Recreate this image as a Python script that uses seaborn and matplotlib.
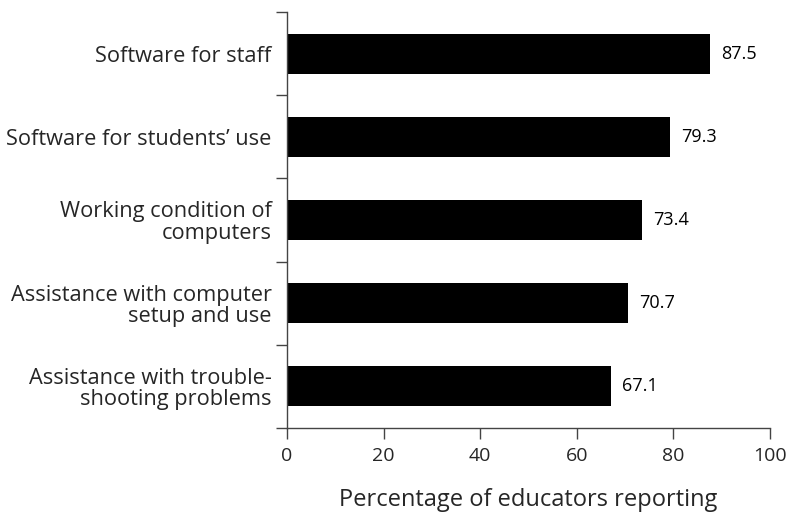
import matplotlib
matplotlib.use("Agg")
import matplotlib.pyplot as plt
from matplotlib.ticker import FixedLocator
import seaborn as sns
import pandas as pd

categories = ["Software for staff", "Software for students\u2019 use",
              "Working condition of\ncomputers", "Assistance with computer\nsetup and use",
              "Assistance with trouble-\nshooting problems"]
values = [87.5, 79.3, 73.4, 70.7, 67.1]
x_ticks = [0, 20, 40, 60, 80, 100]

sns.set_theme(style="white")
plt.rcParams['font.family'] = ['Open Sans', 'DejaVu Sans']

df = pd.DataFrame({"cat": categories, "val": values})

fig = plt.figure(figsize=(7.86, 5.14), dpi=100)
ax = fig.add_axes([287/786, 1-428/514, (770-287)/786, (428-12)/514])
sns.barplot(data=df, x="val", y="cat", orient="h", color="black", width=0.48,
            saturation=1, ax=ax)
for p in ax.patches:
    p.set_edgecolor("none")

for i, v in enumerate(values):
    ax.text(v + 2.3, i, f"{v:.1f}", va="center", ha="left", fontsize=13, color="black")

ax.set_xlim(0, 100)
ax.set_ylim(len(categories) - 0.5, -0.5)
ax.set_xticks(x_ticks)
ax.set_xticklabels([str(t) for t in x_ticks], fontsize=14)
ax.set_xlabel("Percentage of educators reporting", fontsize=17, labelpad=16)
ax.set_ylabel("")

# boundaries as major ticks, labels on minor ticks
ax.yaxis.set_major_locator(FixedLocator([i - 0.5 for i in range(len(categories) + 1)]))
ax.yaxis.set_minor_locator(FixedLocator(list(range(len(categories)))))
ax.set_yticklabels([], minor=False)
ax.set_yticklabels(categories, minor=True, fontsize=15.7, ha="right", linespacing=1.0)
ax.tick_params(axis="y", which="major", length=8, width=1, color="#444444", direction="out", left=True)
ax.tick_params(axis="y", which="minor", length=0, pad=11)
ax.tick_params(axis="x", which="major", length=8, width=1, color="#444444", direction="out", bottom=True, pad=6)

for s in ["top", "right"]:
    ax.spines[s].set_visible(False)
for s in ["left", "bottom"]:
    ax.spines[s].set_color("#444444")
    ax.spines[s].set_linewidth(1)

fig.savefig("out.png", dpi=100)
